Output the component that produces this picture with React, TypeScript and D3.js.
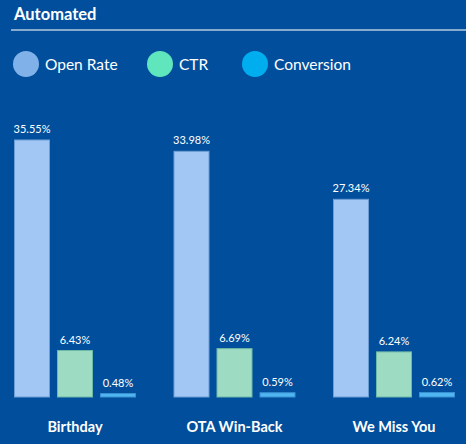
import { scaleBand, scaleLinear, select } from 'd3'
import { useEffect, useRef } from 'react'

const categories = ['Birthday', 'OTA Win-Back', 'We Miss You']
const seriesNames = ['Open Rate', 'CTR', 'Conversion']
const openRate = [35.55, 33.98, 27.34]
const ctr = [6.43, 6.69, 6.24]
const conversion = [0.48, 0.59, 0.62]

const legendColors = ['#80b2e9', '#5fe6bd', '#00aeef']
const barColors = ['#a2c7f4', '#9edbc3', '#50b6f2']
const barStrokes = ['#6e9dd4', '#6fb8a6', '#3a90d0']

const W = 466
const H = 444

export default function App() {
  const svgRef = useRef<SVGSVGElement | null>(null)

  useEffect(() => {
    if (!svgRef.current) return
    const svg = select(svgRef.current)
    svg.selectAll('*').remove()

    svg.append('rect').attr('width', W).attr('height', H).attr('fill', '#014f9c')

    // header
    svg.append('text')
      .attr('x', 14).attr('y', 20)
      .attr('fill', '#fff')
      .attr('font-size', 16.5)
      .attr('font-weight', 700)
      .text('Automated')
    svg.append('line')
      .attr('x1', 11).attr('x2', W)
      .attr('y1', 30).attr('y2', 30)
      .attr('stroke', '#b7c9e0')
      .attr('stroke-width', 1.5)

    // legend
    const legendX = [26, 160, 255]
    const legend = svg.append('g')
      .selectAll('g')
      .data(seriesNames)
      .join('g')
      .attr('transform', (_, i) => `translate(${legendX[i]}, 64)`)
    legend.append('circle').attr('r', 13).attr('fill', (_, i) => legendColors[i])
    legend.append('text')
      .attr('x', 19).attr('y', 6)
      .attr('fill', '#fff')
      .attr('font-size', 15.5)
      .text(d => d)

    const baseline = 397
    const x0 = scaleBand().domain(categories).range([14, 455]).paddingInner(0.235).paddingOuter(0)
    const x1 = scaleBand().domain(seriesNames).range([0, x0.bandwidth()]).paddingInner(0.163).paddingOuter(0)
    const y = scaleLinear().domain([0, 40]).range([baseline, baseline - 289.2])

    const rows = categories.map((c, i) => ({
      category: c,
      values: [openRate[i], ctr[i], conversion[i]].map((v, j) => ({ key: seriesNames[j], value: v, j })),
    }))

    const groups = svg.append('g')
      .selectAll('g')
      .data(rows)
      .join('g')
      .attr('transform', d => `translate(${x0(d.category)}, 0)`)

    groups.selectAll('rect')
      .data(d => d.values)
      .join('rect')
      .attr('x', d => (x1(d.key) ?? 0) + 0.5)
      .attr('y', d => y(d.value))
      .attr('width', x1.bandwidth() - 1)
      .attr('height', d => baseline - y(d.value))
      .attr('fill', d => barColors[d.j])
      .attr('stroke', d => barStrokes[d.j])
      .attr('stroke-width', 1)

    groups.selectAll('text.val')
      .data(d => d.values)
      .join('text')
      .attr('class', 'val')
      .attr('x', d => (x1(d.key) ?? 0) + x1.bandwidth() / 2)
      .attr('y', d => y(d.value) - 7)
      .attr('text-anchor', 'middle')
      .attr('fill', '#fff')
      .attr('font-size', 11)
      .text(d => `${d.value.toFixed(2)}%`)

    groups.append('text')
      .attr('x', x0.bandwidth() / 2)
      .attr('y', 432)
      .attr('text-anchor', 'middle')
      .attr('fill', '#fff')
      .attr('font-size', 14.5)
      .attr('font-weight', 700)
      .text(d => d.category)
  }, [])

  return (
    <svg
      ref={svgRef}
      width={W}
      height={H}
      style={{ position: 'absolute', left: 0, top: 0, fontFamily: 'Lato, sans-serif' }}
    />
  )
}
